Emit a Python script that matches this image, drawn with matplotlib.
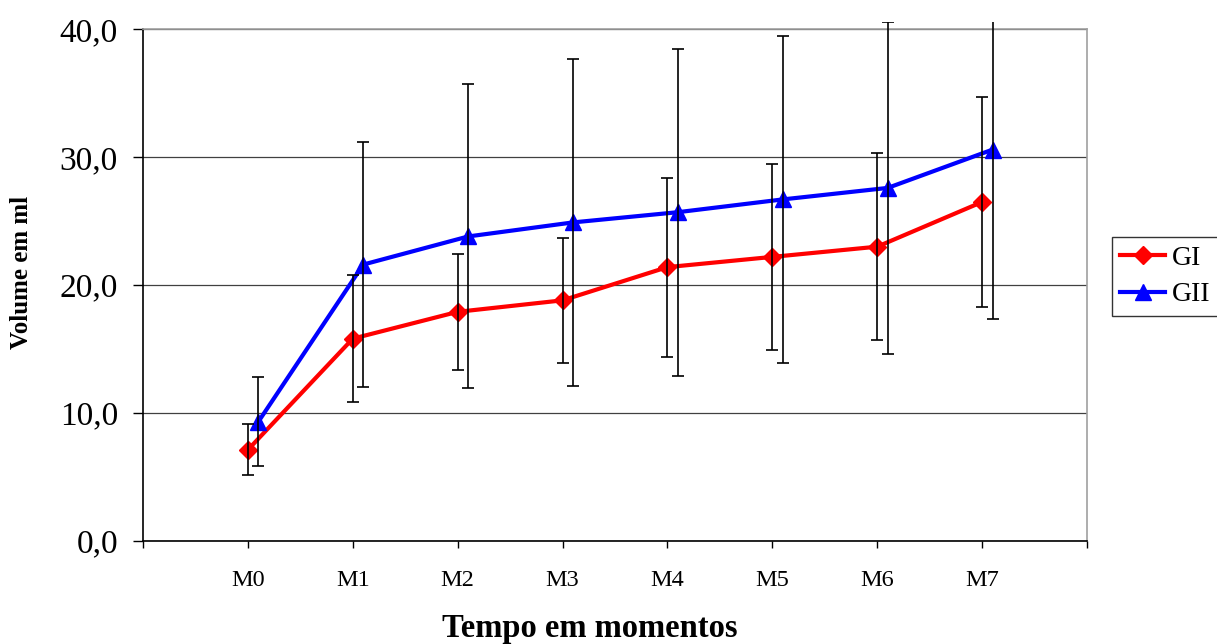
import numpy as np
import matplotlib
matplotlib.use('Agg')
import matplotlib.pyplot as plt
from matplotlib.patches import Rectangle

plt.rcParams['font.family'] = ['Liberation Serif', 'DejaVu Serif']

# data
momentos = ['M0', 'M1', 'M2', 'M3', 'M4', 'M5', 'M6', 'M7']
gi_media = [7.1, 15.8, 17.9, 18.8, 21.4, 22.2, 23.0, 26.5]
gi_dp = [2.0, 4.95, 4.55, 4.9, 7.0, 7.3, 7.3, 8.2]
gii_media = [9.3, 21.6, 23.8, 24.9, 25.7, 26.7, 27.6, 30.6]
gii_dp = [3.5, 9.6, 11.9, 12.8, 12.8, 12.8, 13.0, 13.3]

x = np.arange(len(momentos))
offset = 0.1  # GII drawn a little to the right, like the original

fig = plt.figure(figsize=(12.17, 6.44), dpi=100)
ax = fig.add_axes([0.1175, 0.1607, 0.7757, 0.7935])

ax.plot(x, gi_media, color='#ff0000', lw=3, marker='D', ms=9, label='GI', zorder=3)
ax.plot(x + offset, gii_media, color='#0000ff', lw=3, marker='^', ms=12, label='GII', zorder=3)

#error bars on top of the lines, allowed to poke a bit above the plot area
clip = Rectangle((0, 0), 1, 1 - 22 / 644, transform=fig.transFigure, visible=False)
fig.add_artist(clip)
for xs, m, dp in [(x, gi_media, gi_dp), (x + offset, gii_media, gii_dp)]:
    cont = ax.errorbar(xs, m, yerr=dp, fmt='none', ecolor='black', elinewidth=1.2,
                       capsize=4, capthick=1.2, zorder=4)
    for art in cont.lines[1] + cont.lines[2]:
        art.set_clip_path(clip)

ax.set_xlim(-1, 8)
ax.set_ylim(0, 40)
ax.set_yticks([0, 10, 20, 30, 40])
ax.set_yticklabels(['0,0', '10,0', '20,0', '30,0', '40,0'], fontsize=24)
ax.set_xticks(np.arange(-1, 9))
ax.set_xticklabels([''] + momentos + [''], fontsize=17.5)
ax.tick_params(axis='x', length=5, width=1, pad=16, direction='out')
ax.tick_params(axis='y', length=7, width=1, pad=11, direction='out')

ax.grid(axis='y', color='#404040', lw=0.9)
ax.set_axisbelow(True)
ax.spines['left'].set_color('black')
ax.spines['bottom'].set_color('black')
ax.spines['top'].set_color('#a0a0a0')
ax.spines['right'].set_color('#a0a0a0')
for s in ax.spines.values():
    s.set_linewidth(1.2)

ax.set_xlabel('Tempo em momentos', fontsize=23.5, fontweight='bold')
ax.xaxis.set_label_coords(0.4735, -0.142)
ax.set_ylabel('Volume em ml', fontsize=18, fontweight='bold')
ax.yaxis.set_label_coords(-0.1165, 0.524)

leg = ax.legend(loc='upper left', bbox_to_anchor=(1112 / 1217, 1 - 237 / 644),
                bbox_transform=fig.transFigure, fontsize=20, frameon=True,
                fancybox=False, edgecolor='black', handlelength=1.6,
                borderpad=0.3, labelspacing=0.4, handletextpad=0.25, borderaxespad=0)
leg.get_frame().set_linewidth(1)

fig.savefig('out.png', dpi=100)
